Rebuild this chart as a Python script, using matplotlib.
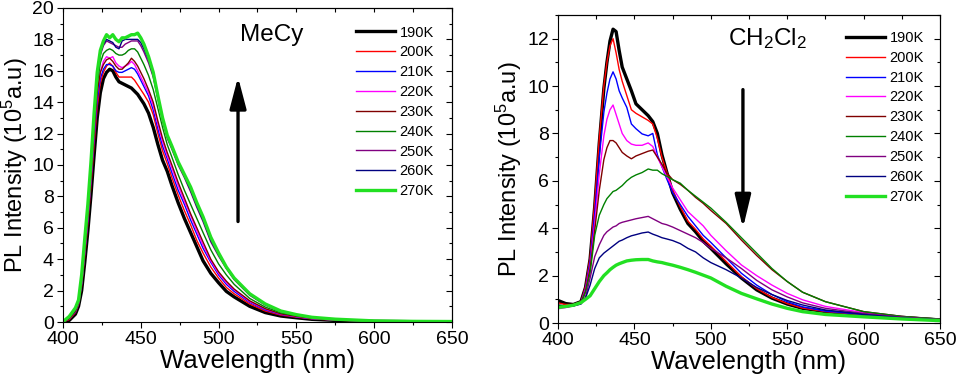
import matplotlib
matplotlib.use("Agg")
import matplotlib.pyplot as plt
from matplotlib.ticker import MultipleLocator

plt.rcParams["font.family"] = ["Liberation Sans", "DejaVu Sans"]
plt.rcParams["mathtext.default"] = "regular"

temps = ["190K", "200K", "210K", "220K", "230K", "240K", "250K", "260K", "270K"]
colors = ["#000000", "#ff0000", "#0000ff", "#ff00ff", "#800000",
          "#008000", "#800080", "#000080", "#22e022"]
widths = [2.4, 1.0, 1.0, 1.0, 1.0, 1.0, 1.0, 1.0, 2.4]

# MeCy spectra (10^5 a.u.)
wl_mecy = [400, 404, 408, 410, 412, 414, 416, 418, 420, 422, 424, 426, 428, 430, 432,
           434, 436, 438, 440, 442, 444, 446, 448, 450, 452, 455, 458, 461, 464, 467,
           470, 474, 478, 482, 486, 490, 495, 500, 505, 510, 520, 530, 540, 550, 560,
           575, 600, 625, 650]
mecy_190 = [0.0, 0.1, 0.5, 1.0, 2.0, 3.8, 5.8, 8.1, 10.6, 13.0, 14.6, 15.5, 15.9, 16.1, 16.0,
            15.6, 15.3, 15.2, 15.1, 15.0, 14.9, 14.7, 14.5, 14.2, 13.9, 13.3, 12.4, 11.3, 10.3, 9.6,
            8.7, 7.6, 6.6, 5.7, 4.8, 3.9, 3.1, 2.5, 1.95, 1.6, 1.0, 0.6, 0.38, 0.27, 0.17,
            0.1, 0.04, 0.02, 0.01]
mecy_200 = [0.0, 0.15, 0.6, 1.1, 2.3, 4.2, 6.3, 8.7, 11.3, 13.7, 15.2, 15.9, 16.3, 16.5, 16.3,
            15.9, 15.6, 15.6, 15.6, 15.6, 15.6, 15.4, 15.1, 14.8, 14.5, 14.0, 13.2, 12.0, 10.9, 10.1,
            9.2, 8.1, 7.1, 6.2, 5.2, 4.4, 3.5, 2.8, 2.2, 1.8, 1.15, 0.7, 0.44, 0.31, 0.2,
            0.12, 0.05, 0.02, 0.01]
mecy_210 = [0.0, 0.2, 0.65, 1.15, 2.4, 4.4, 6.5, 9.0, 11.7, 14.1, 15.5, 16.1, 16.4, 16.4, 16.3,
            16.0, 15.9, 15.9, 16.0, 16.1, 16.2, 16.1, 15.8, 15.4, 15.0, 14.4, 13.5, 12.3, 11.2, 10.4,
            9.5, 8.4, 7.5, 6.5, 5.6, 4.7, 3.8, 3.0, 2.4, 1.95, 1.25, 0.77, 0.48, 0.33, 0.21,
            0.13, 0.05, 0.03, 0.02]
mecy_220 = [0.0, 0.2, 0.7, 1.2, 2.5, 4.5, 6.7, 9.2, 12.0, 14.5, 15.9, 16.6, 16.9, 16.8, 16.9,
            16.5, 16.3, 16.2, 16.3, 16.4, 16.6, 16.4, 16.0, 15.6, 15.2, 14.6, 13.8, 12.6, 11.5, 10.6,
            9.8, 8.7, 7.7, 6.8, 5.8, 4.9, 3.9, 3.1, 2.5, 2.05, 1.3, 0.82, 0.5, 0.34, 0.22,
            0.13, 0.05, 0.03, 0.02]
mecy_230 = [0.0, 0.2, 0.7, 1.2, 2.6, 4.6, 6.8, 9.3, 12.1, 14.6, 15.9, 16.4, 16.7, 16.8, 16.6,
            16.3, 16.1, 16.1, 16.3, 16.5, 16.8, 16.6, 16.3, 15.9, 15.5, 14.8, 14.0, 12.8, 11.7, 10.8,
            10.0, 8.9, 7.9, 6.9, 6.0, 5.1, 4.0, 3.2, 2.6, 2.1, 1.35, 0.85, 0.52, 0.36, 0.23,
            0.14, 0.06, 0.03, 0.02]
mecy_240 = [0.01, 0.25, 0.75, 1.3, 2.7, 4.8, 7.0, 9.6, 12.5, 15.1, 16.5, 17.1, 17.3, 17.4, 17.3,
            17.1, 17.0, 17.0, 17.1, 17.3, 17.4, 17.4, 17.2, 16.8, 16.4, 15.7, 14.8, 13.6, 12.4, 11.3,
            10.5, 9.4, 8.4, 7.5, 6.6, 5.7, 4.6, 3.7, 3.0, 2.4, 1.5, 0.95, 0.58, 0.4, 0.26,
            0.16, 0.06, 0.03, 0.02]
mecy_250 = [0.01, 0.3, 0.85, 1.35, 2.9, 5.1, 7.3, 10.0, 13.0, 15.6, 17.0, 17.6, 17.9, 17.8, 17.7,
            17.6, 17.5, 17.5, 17.7, 17.8, 17.9, 17.9, 17.9, 17.6, 17.2, 16.5, 15.6, 14.2, 12.8, 11.7,
            11.0, 10.0, 9.2, 8.3, 7.3, 6.4, 5.1, 4.2, 3.4, 2.7, 1.7, 1.08, 0.66, 0.45, 0.29,
            0.17, 0.07, 0.04, 0.03]
mecy_260 = [0.01, 0.3, 0.85, 1.35, 2.9, 5.2, 7.4, 10.1, 13.1, 15.7, 17.1, 17.7, 18.0, 17.9, 17.8,
            17.5, 17.4, 17.9, 18.0, 18.0, 18.0, 18.0, 18.0, 17.8, 17.4, 16.7, 15.7, 14.3, 12.9, 11.8,
            11.1, 10.1, 9.3, 8.4, 7.4, 6.5, 5.2, 4.3, 3.45, 2.75, 1.75, 1.1, 0.68, 0.46, 0.3,
            0.18, 0.07, 0.04, 0.03]
mecy_270 = [0.02, 0.35, 0.9, 1.4, 3.0, 5.3, 7.5, 10.2, 13.3, 15.9, 17.3, 17.9, 18.3, 18.1, 18.3,
            18.0, 17.85, 18.1, 18.1, 18.2, 18.3, 18.3, 18.4, 18.1, 17.7, 16.9, 15.9, 14.4, 13.0, 11.9,
            11.2, 10.2, 9.4, 8.6, 7.6, 6.7, 5.4, 4.4, 3.5, 2.8, 1.8, 1.15, 0.7, 0.47, 0.3,
            0.18, 0.07, 0.04, 0.03]

# CH2Cl2 spectra (10^5 a.u.)
wl_dcm = [400, 405, 410, 415, 418, 421, 424, 427, 430, 432, 434, 436, 438, 440, 442,
          445, 448, 451, 455, 459, 462, 465, 468, 471, 475, 480, 485, 490, 495, 500,
          510, 520, 530, 540, 550, 560, 575, 600, 625, 650]
dcm_190 = [0.95, 0.82, 0.78, 0.9, 1.5, 2.7, 4.9, 7.6, 9.9, 11.0, 11.9, 12.4, 12.3, 11.5, 10.8,
           10.3, 9.8, 9.25, 9.0, 8.75, 8.5, 8.0, 7.1, 6.4, 5.5, 4.8, 4.2, 3.85, 3.45, 3.15,
           2.5, 1.9, 1.4, 1.05, 0.8, 0.62, 0.48, 0.35, 0.22, 0.13]
dcm_200 = [0.85, 0.78, 0.78, 0.9, 1.55, 2.8, 5.1, 7.8, 10.0, 11.0, 11.7, 12.0, 11.4, 10.7, 10.2,
           9.6, 9.0, 8.85, 8.7, 8.55, 8.4, 7.8, 7.0, 6.4, 5.6, 4.9, 4.3, 3.95, 3.55, 3.25,
           2.6, 1.95, 1.45, 1.08, 0.82, 0.63, 0.48, 0.35, 0.22, 0.13]
dcm_210 = [0.75, 0.72, 0.75, 0.88, 1.45, 2.6, 4.6, 7.0, 8.9, 9.7, 10.3, 10.6, 10.3, 9.8, 9.5,
           9.1, 8.4, 8.2, 7.98, 7.9, 8.0, 7.1, 6.6, 6.1, 5.5, 5.0, 4.5, 4.1, 3.7, 3.4,
           2.75, 2.1, 1.6, 1.2, 0.9, 0.68, 0.5, 0.36, 0.23, 0.14]
dcm_220 = [0.6, 0.65, 0.72, 0.86, 1.4, 2.4, 4.2, 6.3, 7.9, 8.6, 9.0, 9.2, 8.8, 8.4, 8.0,
           7.7, 7.55, 7.5, 7.5, 7.6, 7.45, 7.0, 6.6, 6.2, 5.7, 5.2, 4.7, 4.4, 4.1, 3.7,
           3.05, 2.45, 2.0, 1.6, 1.25, 0.98, 0.7, 0.44, 0.28, 0.16]
dcm_230 = [0.75, 0.72, 0.75, 0.86, 1.35, 2.3, 3.9, 5.6, 6.9, 7.4, 7.7, 7.7, 7.6, 7.4, 7.2,
           7.05, 6.93, 7.05, 7.15, 7.25, 7.3, 7.0, 6.7, 6.35, 6.05, 5.85, 5.6, 5.3, 5.05, 4.75,
           4.2, 3.5, 2.85, 2.25, 1.75, 1.3, 0.9, 0.48, 0.28, 0.16]
dcm_240 = [0.75, 0.72, 0.75, 0.85, 1.3, 2.1, 3.7, 4.55, 5.0, 5.25, 5.4, 5.55, 5.6, 5.7, 5.8,
           6.0, 6.15, 6.25, 6.35, 6.5, 6.45, 6.45, 6.3, 6.2, 6.05, 5.9, 5.6, 5.35, 5.1, 4.85,
           4.25, 3.6, 2.95, 2.3, 1.75, 1.3, 0.9, 0.48, 0.28, 0.17]
dcm_250 = [0.65, 0.68, 0.72, 0.82, 1.1, 1.9, 2.8, 3.3, 3.7, 3.85, 3.95, 4.05, 4.1, 4.2, 4.25,
           4.3, 4.35, 4.4, 4.45, 4.5, 4.4, 4.3, 4.2, 4.15, 4.05, 3.9, 3.75, 3.6, 3.4, 3.15,
           2.75, 2.3, 1.8, 1.4, 1.1, 0.85, 0.62, 0.4, 0.25, 0.15]
dcm_260 = [0.7, 0.68, 0.72, 0.8, 1.05, 1.6, 2.3, 2.75, 2.95, 3.05, 3.15, 3.25, 3.35, 3.45, 3.5,
           3.6, 3.68, 3.73, 3.8, 3.84, 3.75, 3.68, 3.6, 3.55, 3.48, 3.35, 3.15, 3.0, 2.75, 2.55,
           2.25, 1.9, 1.5, 1.2, 0.95, 0.76, 0.55, 0.36, 0.22, 0.13]
dcm_270 = [0.65, 0.7, 0.75, 0.86, 1.0, 1.15, 1.45, 1.75, 2.0, 2.12, 2.25, 2.35, 2.44, 2.5, 2.55,
           2.62, 2.65, 2.67, 2.68, 2.68, 2.62, 2.58, 2.55, 2.5, 2.44, 2.35, 2.25, 2.14, 2.02, 1.9,
           1.55, 1.25, 1.02, 0.8, 0.62, 0.48, 0.36, 0.26, 0.17, 0.1]

mecy = [mecy_190, mecy_200, mecy_210, mecy_220, mecy_230, mecy_240, mecy_250, mecy_260, mecy_270]
dcm = [dcm_190, dcm_200, dcm_210, dcm_220, dcm_230, dcm_240, dcm_250, dcm_260, dcm_270]

fig = plt.figure(figsize=(9.57, 3.86), dpi=100)
ax1 = fig.add_axes([0.0658, 0.1658, 0.4065, 0.8135])
ax2 = fig.add_axes([0.5831, 0.1632, 0.3992, 0.7980])


def style(ax, ymax, legend_y, ylab_x):
    ax.set_xlim(400, 650)
    ax.set_ylim(0, ymax)
    ax.xaxis.set_major_locator(MultipleLocator(50))
    ax.xaxis.set_minor_locator(MultipleLocator(25))
    ax.yaxis.set_major_locator(MultipleLocator(2))
    ax.yaxis.set_minor_locator(MultipleLocator(1))
    ax.tick_params(which="both", direction="out", labelsize=14, width=0.8, pad=2)
    ax.tick_params(which="major", length=4.5)
    ax.tick_params(which="minor", length=2.5)
    for s in ax.spines.values():
        s.set_linewidth(0.8)
    top = ax.secondary_xaxis("top")
    top.xaxis.set_major_locator(MultipleLocator(25))
    top.tick_params(direction="in", length=3, width=0.8, labeltop=False)
    right = ax.secondary_yaxis("right")
    right.yaxis.set_major_locator(MultipleLocator(2))
    right.yaxis.set_minor_locator(MultipleLocator(1))
    right.tick_params(which="both", direction="in", width=0.8, labelright=False)
    right.tick_params(which="major", length=4)
    right.tick_params(which="minor", length=2.5)
    ax.set_xlabel("Wavelength (nm)", fontsize=18.5, labelpad=1)
    ax.set_ylabel("PL Intensity (10$^5$a.u)", fontsize=17)
    ax.yaxis.set_label_coords(ylab_x, 0.5)
    ax.legend(loc="upper left", bbox_to_anchor=(0.753, legend_y), frameon=False,
              fontsize=10.5, handlelength=2.7, handletextpad=0.3, labelspacing=0.4,
              borderpad=0, borderaxespad=0)


for ys, c, w, t in zip(mecy, colors, widths, temps):
    ax1.plot(wl_mecy, ys, color=c, lw=w, label=t)
for ys, c, w, t in zip(dcm, colors, widths, temps):
    ax2.plot(wl_dcm, ys, color=c, lw=w, label=t)

style(ax1, 20, 0.944, -0.085)
style(ax2, 13, 0.948, -0.088)

ax1.text(534, 18.3, "MeCy", fontsize=17.5, ha="center", va="center")
ax2.text(537, 12.0, "CH$_2$Cl$_2$", fontsize=17.5, ha="center", va="center")

ax1.annotate("", xy=(512.5, 15.6), xytext=(512.5, 6.4),
             arrowprops=dict(arrowstyle="-|>,head_width=0.25,head_length=0.95",
                             lw=2.4, color="black", mutation_scale=20, shrinkA=0, shrinkB=0))
ax2.annotate("", xy=(521, 4.0), xytext=(521, 9.85),
             arrowprops=dict(arrowstyle="-|>,head_width=0.24,head_length=1.0",
                             lw=2.4, color="black", mutation_scale=20, shrinkA=0, shrinkB=0))

fig.savefig("out.png", dpi=100)
